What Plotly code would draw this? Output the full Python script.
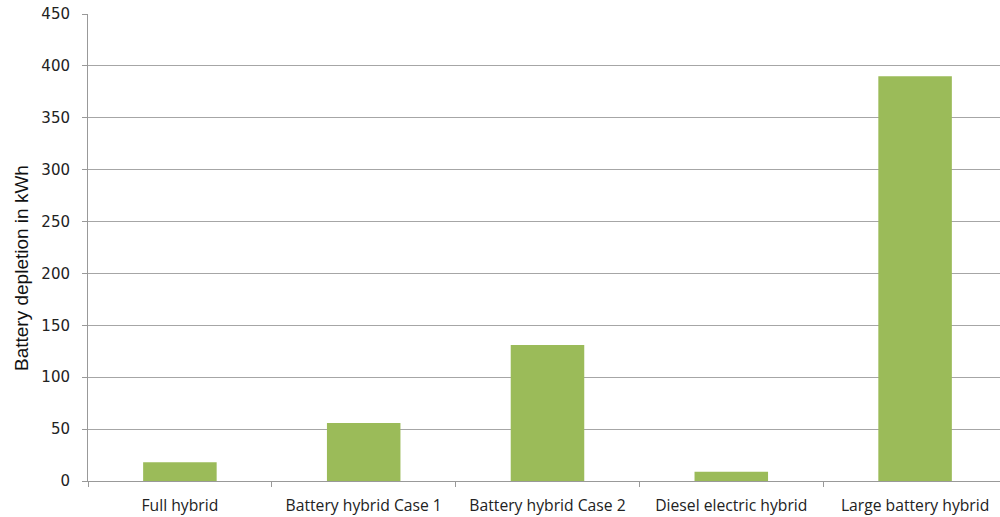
import plotly.graph_objects as go

categories = ["Full hybrid", "Battery hybrid Case 1", "Battery hybrid Case 2",
              "Diesel electric hybrid", "Large battery hybrid"]
values = [18, 56, 131, 9, 390]
y_ticks = [0, 50, 100, 150, 200, 250, 300, 350, 400, 450]
y_title = "Battery depletion in kWh"

fig = go.Figure(go.Bar(x=categories, y=values, marker_color="#9BBB59",
                       marker_line_width=0, width=0.4))

fig.update_layout(
    width=1000, height=517,
    margin=dict(l=88, t=14, b=36, r=0),
    plot_bgcolor="white", paper_bgcolor="white",
    showlegend=False,
    xaxis=dict(type="category", range=[-0.5, 4.462], tickson="boundaries",
               ticks="outside", ticklen=5, tickcolor="#999999", automargin=False,
               showline=True, linecolor="#999999", linewidth=1,
               showgrid=False, ticklabelstandoff=10,
               tickfont=dict(family="Open Sans", size=15.7, color="#222222")),
    yaxis=dict(range=[0, 450], tickvals=y_ticks, ticks="outside", ticklen=5,
               tickcolor="#999999", showline=True, linecolor="#999999",
               gridcolor="#a6a6a6", gridwidth=1, zeroline=False, automargin=False,
               ticklabelstandoff=9,
               tickfont=dict(family="DejaVu Sans", size=15, color="#222222")),
    annotations=[dict(text=y_title, textangle=-90, xref="paper", yref="paper",
                      x=-0.0735, y=0.456, xanchor="center", yanchor="middle",
                      showarrow=False,
                      font=dict(family="Liberation Sans", size=19, color="#111111"))],
)

fig.write_html("out.html", config={"displayModeBar": False},
               post_script="document.body.style.margin='0';document.body.style.overflow='hidden';")
